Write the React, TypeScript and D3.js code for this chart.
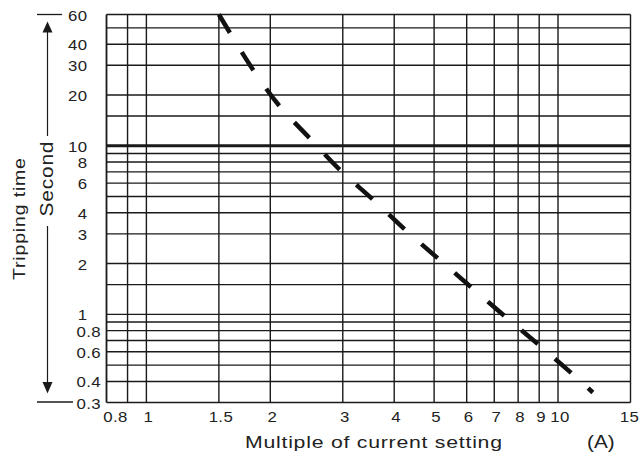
import React from "react";
import * as d3 from "d3";

const W = 640;
const H = 456;

// Grid values
const xGrid = [0.8, 0.9, 1, 1.5, 2, 3, 4, 5, 6, 7, 8, 9, 10, 15];
const yGrid = [60, 50, 40, 30, 20, 15, 10, 9, 8, 7, 6, 5, 4, 3, 2, 1.5, 1, 0.9, 0.8, 0.7, 0.6, 0.5, 0.4, 0.3];

// Tick labels
const xTicks = [0.8, 1, 1.5, 2, 3, 4, 5, 6, 7, 8, 9, 10, 15];
const xTickLabels = ["0.8", "1", "1.5", "2", "3", "4", "5", "6", "7", "8", "9", "10", "15"];
const yTicks = [60, 40, 30, 20, 10, 8, 6, 4, 3, 2, 1, 0.8, 0.6, 0.4, 0.3];
const yTickLabels = ["60", "40", "30", "20", "10", "8", "6", "4", "3", "2", "1", "0.8", "0.6", "0.4", "0.3"];

// Tripping curve (multiple of current setting, seconds)
const curveX = [1.5, 1.82, 2.11, 2.5, 2.95, 3.55, 4.26, 5.15, 6.15, 7.44, 9.0, 10.8, 12.15];
const curveY = [60, 28, 17.1, 11, 7.2, 4.8, 3.16, 2.11, 1.45, 0.97, 0.656, 0.446, 0.344];

const FONT = "'Liberation Sans', Arial, sans-serif";
const SX = 1.2; // horizontal stretch of the reference lettering

export default function App() {
  const left = 106.5, right = 630.5, top = 14.5, bottom = 402.5;
  const x = d3.scaleLog().domain([0.8, 15]).range([left, right]);
  const y = d3.scaleLog().domain([0.3, 60]).range([bottom, top]);

  const pts: [number, number][] = curveX.map((v, i) => [v, curveY[i]]);
  const line = d3
    .line<[number, number]>()
    .x((d) => x(d[0]))
    .y((d) => y(d[1]))
    .curve(d3.curveCatmullRom.alpha(0.5));

  const stroke = "#1a1a1a";
  const ax = 47.5;
  const nX = xTicks.length;

  return (
    <svg
      width={W}
      height={H}
      style={{ position: "fixed", left: 0, top: 0, background: "#fff" }}
      fontFamily={FONT}
    >
      <rect x={0} y={0} width={W} height={H} fill="#fff" />
      {/* horizontal grid */}
      {yGrid.map((v) => (
        <line
          key={"h" + v}
          x1={left}
          x2={right}
          y1={y(v)}
          y2={y(v)}
          stroke={stroke}
          strokeWidth={v === 10 ? 3 : 1.4}
        />
      ))}
      {/* vertical grid */}
      {xGrid.map((v) => (
        <line
          key={"v" + v}
          x1={x(v)}
          x2={x(v)}
          y1={top}
          y2={bottom}
          stroke={stroke}
          strokeWidth={v === 0.8 ? 1.8 : 1.4}
        />
      ))}
      {/* curve */}
      <path
        d={line(pts) || ""}
        fill="none"
        stroke="#111"
        strokeWidth={4.5}
        strokeDasharray="21.5 22.5"
      />
      {/* y tick labels */}
      {yTicks.map((v, i) => (
        <text
          key={"yt" + v}
          transform={`translate(${v >= 1 ? left - 19 : left - 30},${y(v) + 6}) scale(${SX},1)`}
          textAnchor={v >= 1 ? "end" : "start"}
          fontSize={14}
          letterSpacing={0.3}
          fill="#222"
        >
          {yTickLabels[i]}
        </text>
      ))}
      {/* x tick labels */}
      {xTicks.map((v, i) => (
        <text
          key={"xt" + v}
          transform={`translate(${x(v) + (i === 0 ? 9 : i === nX - 1 ? -1 : 2)},422) scale(${SX},1)`}
          textAnchor="middle"
          fontSize={14}
          letterSpacing={0.3}
          fill="#222"
        >
          {xTickLabels[i]}
        </text>
      ))}
      {/* x title */}
      <text
        transform={`translate(245,448) scale(1.25,1)`}
        fontSize={17}
        textLength={257 / 1.25}
        lengthAdjust="spacing"
        fill="#222"
      >
        Multiple of current setting
      </text>
      <text transform={`translate(587,448) scale(1.15,1)`} fontSize={18} fill="#222">
        (A)
      </text>
      {/* y title with arrows */}
      <line x1={37} x2={62} y1={top} y2={top} stroke={stroke} strokeWidth={1.3} />
      <line x1={37} x2={73} y1={bottom - 0.5} y2={bottom - 0.5} stroke={stroke} strokeWidth={1.3} />
      <line x1={ax} x2={ax} y1={30} y2={136} stroke={stroke} strokeWidth={1.2} />
      <path d={`M${ax},21.5 L${ax - 5},32.5 L${ax + 5},32.5 Z`} fill={stroke} />
      <line x1={ax} x2={ax} y1={226} y2={384} stroke={stroke} strokeWidth={1.2} />
      <path d={`M${ax},393.5 L${ax - 5},382 L${ax + 5},382 Z`} fill={stroke} />
      <text
        transform={`translate(53,179) rotate(-90) scale(1.1,1)`}
        textAnchor="middle"
        fontSize={19}
        textLength={75 / 1.1}
        lengthAdjust="spacing"
        fill="#222"
      >
        Second
      </text>
      <text
        transform={`translate(25,219) rotate(-90) scale(1.15,1)`}
        textAnchor="middle"
        fontSize={17}
        textLength={122 / 1.15}
        lengthAdjust="spacing"
        fill="#222"
      >
        Tripping time
      </text>
    </svg>
  );
}
